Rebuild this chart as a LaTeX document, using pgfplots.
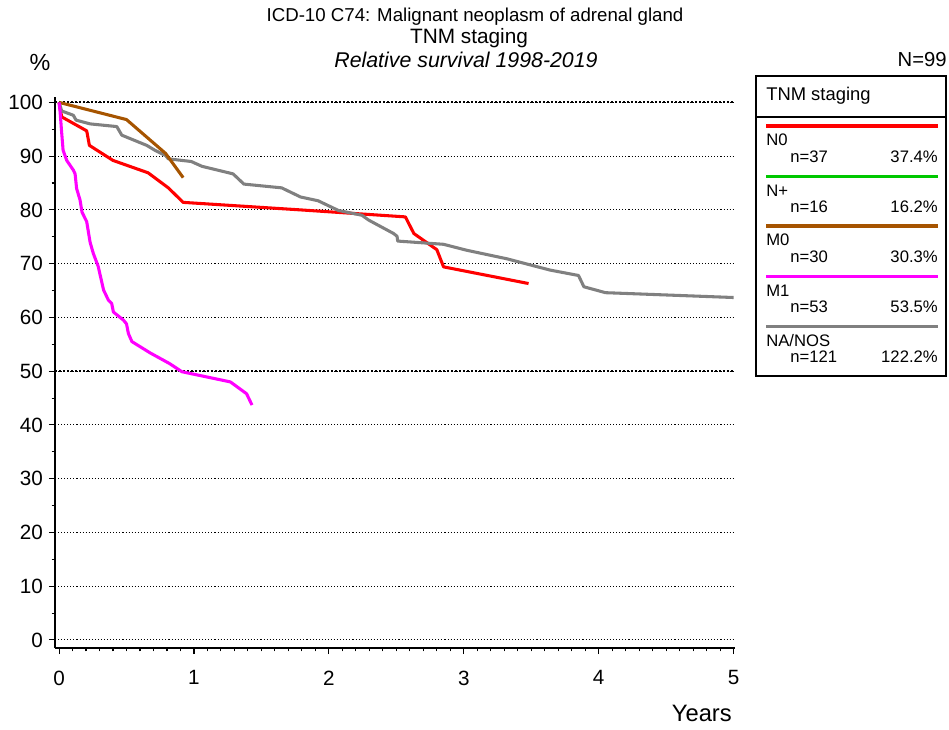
\documentclass[border=0pt]{standalone}
\usepackage{pgfplots}
\pgfplotsset{compat=1.18}
\usepackage{fontspec}
\setmainfont{Liberation Sans}
\definecolor{cN0}{RGB}{255,0,0}
\definecolor{cNp}{RGB}{0,200,0}
\definecolor{cM0}{RGB}{166,84,0}
\definecolor{cM1}{RGB}{255,0,255}
\definecolor{cNA}{RGB}{128,128,128}
\begin{document}
\begin{tikzpicture}
\path[use as bounding box] (0,0) rectangle (711.75pt,-546.75pt);
\begin{axis}[
  at={(41.25pt,-486pt)}, anchor=south west,
  scale only axis, width=510pt, height=413.25pt,
  xmin=-0.03, xmax=5.01, ymin=-1.5, ymax=101,
  axis x line=bottom, axis y line=left,
  axis line style={-, line width=0.9pt},
  tick align=outside,
  xtick={0,1,2,3,4,5}, minor x tick num=9,
  ytick={0,10,...,100}, minor y tick num=1,
  major tick length=4.5pt, minor tick length=2.5pt,
  every tick/.style={black, line width=0.8pt},
  ymajorgrids,
  grid style={black, line width=0.8pt, dash pattern=on 0.8pt off 1.5pt},
  extra y ticks={50,100}, extra y tick labels={},
  extra y tick style={grid style={black, line width=1.6pt, dash pattern=on 1.5pt off 1.5pt}},
  /pgf/number format/assume math mode=true,
  ticklabel style={font=\fontsize{15.5}{18}\selectfont},
  xticklabel style={yshift=-9pt},
  yticklabel style={xshift=-1pt},
  clip=false,
  line join=round,
]
\addplot[cN0, line width=2.3pt] coordinates {(0,100)(0.01,98.5)(0.02,97.3)(0.205,94.7)(0.225,92.0)(0.40,89.2)(0.66,86.9)(0.81,84.1)(0.92,81.4)(1.79,80.0)(2.567,78.7)(2.63,75.6)(2.80,72.6)(2.85,69.4)(3.48,66.3)};
\addplot[cNA, line width=2.3pt] coordinates {(0,100)(0.02,98.4)(0.106,97.6)(0.126,96.7)(0.23,96.0)(0.428,95.5)(0.465,93.9)(0.65,92.0)(0.71,91.1)(0.79,90.1)(0.81,89.5)(0.98,89.0)(1.06,88.1)(1.29,86.7)(1.37,84.8)(1.65,84.1)(1.79,82.4)(1.92,81.7)(2.07,79.9)(2.245,79.0)(2.295,78.1)(2.48,75.6)(2.505,75.1)(2.51,74.2)(2.85,73.6)(3.02,72.5)(3.32,70.9)(3.64,68.8)(3.85,67.8)(3.89,65.7)(4.05,64.6)(5.0,63.7)};
\addplot[cM0, line width=2.3pt] coordinates {(0,100)(0.50,96.8)(0.79,90.5)(0.92,86.0)};
\addplot[cM1, line width=2.3pt] coordinates {(0,100)(0.007,98.5)(0.02,94.2)(0.03,91.1)(0.057,89.2)(0.106,87.4)(0.119,86.7)(0.13,84.0)(0.156,81.8)(0.17,79.6)(0.205,77.8)(0.23,74.0)(0.254,71.9)(0.29,69.5)(0.33,65.1)(0.366,63.2)(0.39,62.6)(0.403,61.0)(0.477,59.5)(0.50,58.8)(0.514,57.0)(0.54,55.5)(0.675,53.4)(0.82,51.4)(0.91,49.9)(1.27,48.0)(1.39,45.8)(1.43,43.7)};
\end{axis}
\begin{scope}[x=0.75pt, y=-0.75pt]
  \node[font=\fontsize{14}{16}\selectfont] at (475,17) {ICD-10 C74: Malignant neoplasm of adrenal gland};
  \node[font=\fontsize{15.6}{18}\selectfont] at (469,38) {TNM staging};
  \node[font=\fontsize{16}{18}\selectfont\itshape] at (466,60) {Relative survival 1998-2019};
  \node[font=\fontsize{17.5}{20}\selectfont] at (40,62) {\%};
  \node[font=\fontsize{15.2}{18}\selectfont, anchor=east, inner sep=0pt] at (947,60) {N=99};
  \node[font=\fontsize{17.8}{20}\selectfont, anchor=east, inner sep=0pt] at (732,713) {Years};
  % legend box
  \draw[line width=0.9pt] (756,76) rectangle (946,376);
  \draw[line width=0.9pt] (756,117) -- (946,117);
  \node[font=\fontsize{13.8}{16}\selectfont, anchor=west, inner sep=0pt] at (766,96) {TNM staging};
  \foreach \yy/\col/\lab/\nn/\pc in {126/cN0/N0/37/37.4, 176.5/cNp/N+/16/16.2, 226/cM0/M0/30/30.3, 276.5/cM1/M1/53/53.5, 326.5/cNA/NA\slash NOS/121/122.2}{
    \draw[\col, line width=2.3pt] (766,\yy) -- (938,\yy);
    \node[font=\fontsize{12.5}{14}\selectfont, anchor=west, inner sep=0pt] at (766,\yy+14) {\lab};
    \node[font=\fontsize{12.5}{14}\selectfont, anchor=west, inner sep=0pt] at (790,\yy+30.5) {n=\nn};
    \node[font=\fontsize{12.5}{14}\selectfont, anchor=east, inner sep=0pt] at (938,\yy+30.5) {\pc\%};
  }
\end{scope}
\end{tikzpicture}
\end{document}
